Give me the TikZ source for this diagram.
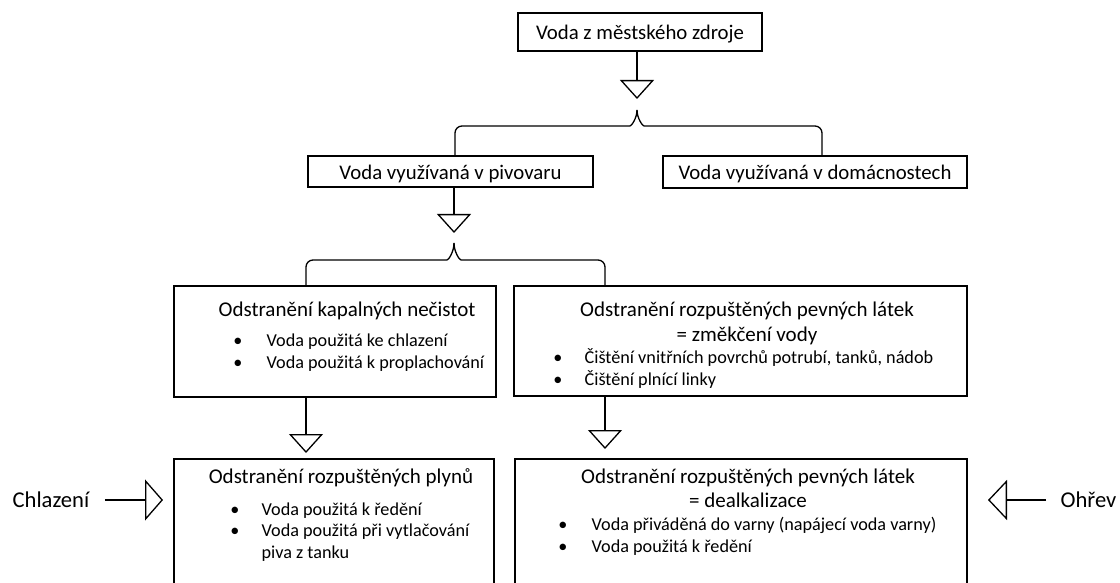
\documentclass[tikz,border=0pt]{standalone}
\usepackage{fontspec}
\setmainfont{Carlito}
\usetikzlibrary{arrows.meta}
\usetikzlibrary{positioning}

\begin{document}
\begin{tikzpicture}[x=1pt,y=1pt,line width=1.3pt,
    box/.style={draw,inner sep=0pt,font=\fontsize{20.8}{24}\selectfont},
    one line/.style={text height=16pt,text depth=0pt},
    head/.style={inner sep=0pt,anchor=base,font=\fontsize{21}{24}\selectfont},
    item/.style={inner sep=0pt,anchor=base west,font=\fontsize{18.2}{22}\selectfont},
    dot/.style={inner sep=0pt,anchor=base,font=\fontsize{18.2}{22}\selectfont},
    side/.style={inner sep=0pt,anchor=base west,font=\fontsize{22.6}{26}\selectfont},
    flow/.style={-{Triangle[open,width=34pt,length=19pt]}},
    brace/.style={rounded corners=7pt}]
  \clip (0,0) rectangle (1120,-583);
  % boxes
  \node[box,one line,minimum width=244pt,minimum height=38pt] (src) at (640,-32) {Voda z městského zdroje};
  \node[box,one line,minimum width=285pt,minimum height=31pt] (brew) at (450.5,-171.5) {Voda využívaná v pivovaru};
  \node[box,one line,minimum width=304pt,minimum height=32pt] (home) at (815,-172) {Voda využívaná v domácnostech};
  \node[box,minimum width=322pt,minimum height=111pt] (kap) at (335,-341.5) {};
  \node[box,minimum width=453pt,minimum height=110pt] (soft) at (740.5,-341) {};
  \node[box,minimum width=320pt,minimum height=151pt] (gas) at (334,-534.5) {};
  \node[box,minimum width=452pt,minimum height=151pt] (dealk) at (741,-534.5) {};

  \coordinate (tipA) at (637,-99);
  \coordinate (forkA) at (637,-110);
  \coordinate (tipB) at (454,-233);
  \coordinate (forkB) at (454,-243);
  \coordinate (tipC) at (306,-453);
  \coordinate (tipD) at (605,-449);

  % connectors
  \draw[flow] (src.south -| tipA) -- (tipA);
  \draw[brace] (forkA) to[out=-90,in=0] ++(-14,-16) -| ([xshift=4.5pt]brew.north);
  \draw[brace] (forkA) to[out=-90,in=180] ++(14,-16) -| ([xshift=7pt]home.north);
  \draw[flow] (brew.south -| tipB) -- (tipB);
  \draw[brace] (forkB) to[out=-90,in=0] ++(-14,-17) -| (kap.north -| tipC);
  \draw[brace] (forkB) to[out=-90,in=180] ++(14,-17) -| (soft.north -| tipD);
  \draw[flow] (kap.south -| tipC) -- (tipC);
  \draw[flow] (soft.south -| tipD) -- (tipD);

  % Odstranění kapalných nečistot
  \node[head] (kapT) at (347,-316) {Odstranění kapalných nečistot};
  \node[dot] (kapD1) at (238,-346) {•};
  \node[dot] (kapD2) at (238,-368) {•};
  \node[item] (kap1) at (266,-346) {Voda použitá ke chlazení};
  \node[item] (kap2) at (266,-368) {Voda použitá k proplachování};

  % změkčení
  \node[head] (softT) at (747,-316) {Odstranění rozpuštěných pevných látek};
  \node[head] (softS) at (747,-341) {= změkčení vody};
  \node[dot] (softD1) at (558,-363) {•};
  \node[dot] (softD2) at (558,-385) {•};
  \node[item] (soft1) at (584,-363) {Čištění vnitřních povrchů potrubí, tanků, nádob};
  \node[item] (soft2) at (584,-385) {Čištění plnící linky};

  % plyny
  \node[head] (gasT) at (341,-483) {Odstranění rozpuštěných plynů};
  \node[dot] (gasD1) at (235,-515) {•};
  \node[dot] (gasD2) at (235,-536) {•};
  \node[item] (gas1) at (261,-515) {Voda použitá k ředění};
  \node[item] (gas2) at (261,-536) {Voda použitá při vytlačování};
  \node[item] (gas3) at (261,-558) {piva z tanku};

  % dealkalizace
  \node[head] (dealkT) at (748,-483) {Odstranění rozpuštěných pevných látek};
  \node[head] (dealkS) at (748,-507) {= dealkalizace};
  \node[dot] (dealkD1) at (563,-530) {•};
  \node[dot] (dealkD2) at (563,-552) {•};
  \node[item] (dealk1) at (591,-530) {Voda přiváděná do varny (napájecí voda varny)};
  \node[item] (dealk2) at (591,-552) {Voda použitá k ředění};

  % side inputs
  \node[side] (cool) at (12,-507) {Chlazení};
  \node[side] (heat) at (1060,-507) {Ohřev};
  \coordinate (coolTip) at (163,-500);
  \coordinate (heatTip) at (988,-500);
  \draw[-{Triangle[open,width=41pt,length=18pt]}] ([xshift=15pt]cool.east |- coolTip) -- (coolTip);
  \draw[-{Triangle[open,width=40pt,length=19pt]}] ([xshift=-14pt]heat.west |- heatTip) -- (heatTip);
\end{tikzpicture}
\end{document}
